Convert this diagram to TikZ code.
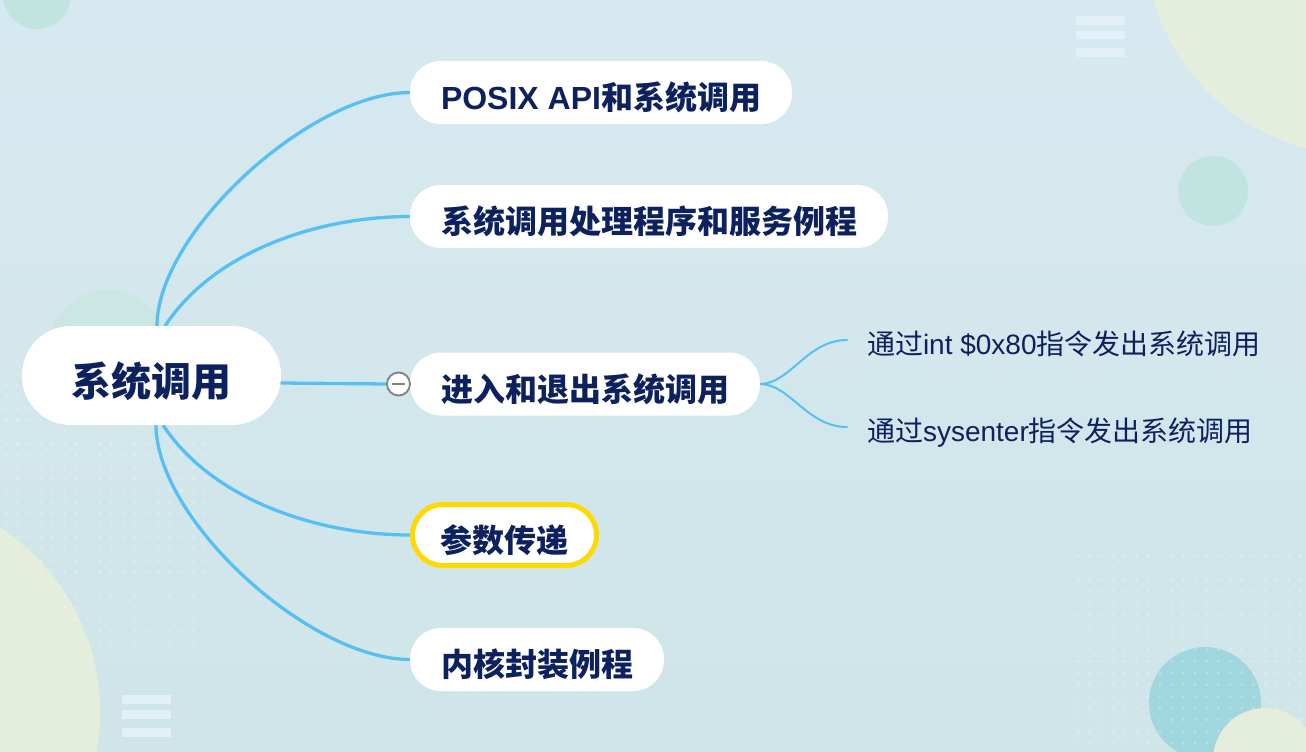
\documentclass[tikz,border=0pt]{standalone}
\usepackage{fontspec}
\setmainfont{Liberation Sans}
\newfontfamily\cjk{Noto Sans CJK SC}
\newfontfamily\lat{Liberation Sans}
\usetikzlibrary{calc}
\pgfdeclarelayer{deco}
\pgfdeclarelayer{links}
\pgfsetlayers{deco,links,main}
\definecolor{bgtop}{RGB}{214,233,240}
\definecolor{bgbot}{RGB}{207,229,232}
\definecolor{navy}{RGB}{13,33,95}
\definecolor{linkblue}{RGB}{86,192,242}
\definecolor{teal1}{RGB}{194,228,225}
\definecolor{pale}{RGB}{229,238,220}
\definecolor{barc}{RGB}{228,240,247}
\definecolor{teal2}{RGB}{160,215,222}
\definecolor{faint}{RGB}{204,230,228}
\definecolor{hiyellow}{RGB}{255,217,0}
\definecolor{colgray}{RGB}{128,128,128}
\begin{document}
\begin{tikzpicture}[x=1pt,y=-1pt,
  rootbox/.style={fill=white, rounded corners=49pt, minimum width=259pt, minimum height=99pt,
    inner sep=0pt, outer sep=0pt, text=navy,
    font=\cjk\bfseries\fontsize{40}{40}\selectfont, text height=42.4pt, text depth=0pt},
  topicbox/.style={fill=white, rounded corners=31pt, minimum height=63pt, inner ysep=0pt,
    inner xsep=31pt, outer sep=0pt, anchor=west, text=navy,
    font=\cjk\bfseries\fontsize{32}{32}\selectfont, text height=34.4pt, text depth=0pt},
  hilite/.style={draw=hiyellow, line width=5pt, minimum height=61pt, rounded corners=30.5pt,
    inner xsep=28pt, outer sep=2.5pt},
  subtext/.style={anchor=west, inner xsep=20pt, inner ysep=0pt, outer sep=0pt, text=navy,
    font=\cjk\fontsize{28}{28}\selectfont, text height=21.3pt, text depth=0pt},
  link/.style={draw=linkblue, line width=3.3pt, line cap=round},
  sublink/.style={draw=linkblue, line width=2pt, line cap=round},
  collapse/.style={circle, draw=colgray, fill=white, line width=1.8pt, minimum size=23pt, inner sep=0pt},
  bar/.style={fill=barc},
  dot/.style={fill=white, opacity=0.25}
]
\useasboundingbox (0,0) rectangle (1306,752);
\begin{pgfonlayer}{deco}
  \begin{scope}
    \clip (0,0) rectangle (1306,752);
    \shade[top color=bgtop, bottom color=bgbot] (0,0) rectangle (1306,752);
    % circles
    \fill[faint] (108,350) circle (60pt);
    \fill[teal1] (37,-5) circle (34pt);
    \fill[pale] (1360,-60) circle (215pt);
    \fill[teal1] (1213,191) circle (35pt);
    \fill[pale] (-120,712) circle (220pt);
    \fill[teal2] (1205,703) circle (56pt);
    % dot grids
    \foreach \i in {0,...,17}{\foreach \j in {0,...,25}{
      \fill[dot] ({6+11.7*\i},{350+11.7*\j}) circle (1.6pt);}}
    \foreach \i in {0,...,19}{\foreach \j in {0,...,16}{
      \fill[dot] ({1078+11.7*\i},{556+11.7*\j}) circle (1.6pt);}}
    \fill[pale] (1265,760) circle (52pt);
    % menu icons
    \fill[bar] (1076,16) rectangle (1125,25);
    \fill[bar] (1076,31) rectangle (1125,39);
    \fill[bar] (1076,48) rectangle (1125,57);
    \fill[bar] (122,695) rectangle (171,704);
    \fill[bar] (122,710) rectangle (171,719);
    \fill[bar] (122,728) rectangle (171,737);
  \end{scope}
\end{pgfonlayer}

% nodes
\node[rootbox] (root) at (151.5,375.5) {系统调用};
\node[topicbox] (t1) at (410,92.5) {{\lat POSIX API}和系统调用};
\node[topicbox] (t2) at (410,216.5) {系统调用处理程序和服务例程};
\node[topicbox] (t3) at (410,384) {进入和退出系统调用};
\node[topicbox, hilite] (t4) at (410,535) {参数传递};
\node[topicbox] (t5) at (410,659.5) {内核封装例程};
\node[collapse] (col) at (398.5,384) {};
\draw[colgray, line width=1.4pt] ([xshift=-6.5pt]col.center) -- ([xshift=6.5pt]col.center);
\node[subtext] (s1) at (847,344) {通过{\lat int \$0x80}指令发出系统调用};
\node[subtext] (s2) at (847,431) {通过{\lat sysenter}指令发出系统调用};

% connectors
\begin{pgfonlayer}{links}
  \draw[link] ([xshift=5.5pt]root.north) .. controls +(0,-93) and +(-100,0) .. (t1.west);
  \draw[link] ([xshift=13.5pt]root.north) .. controls +(50,-76) and +(-90,0) .. (t2.west);
  \draw[link] ([yshift=-7.5pt]root.east) -- (col.west);
  \draw[link] ([xshift=11.5pt]root.south) .. controls +(50,76) and +(-90,0) .. (t4.west);
  \draw[link] ([xshift=4.5pt]root.south) .. controls +(0,94) and +(-101,0) .. (t5.west);
  \draw[sublink] (t3.east) .. controls +(30,0) and +(-40,0) .. ([yshift=4pt]s1.west);
  \draw[sublink] (t3.east) .. controls +(30,0) and +(-40,0) .. ([yshift=4pt]s2.west);
\end{pgfonlayer}
\end{tikzpicture}
\end{document}
